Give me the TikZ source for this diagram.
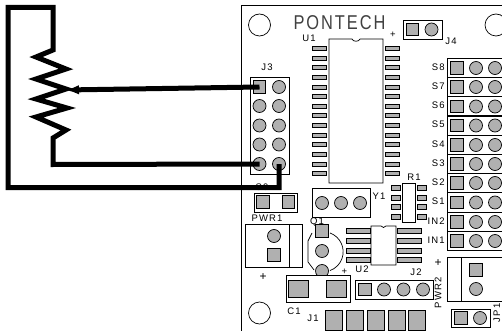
\documentclass[tikz,border=0pt]{standalone}
\usepackage{fontspec}
\setmainfont[LetterSpace=12]{Liberation Sans}
\usetikzlibrary{arrows.meta}
\definecolor{padgray}{RGB}{176,176,176}
\tikzset{
	sqpad/.style={draw, fill=padgray, minimum size=#1, inner sep=0pt},
	sqpad/.default=12.5pt,
	rdpad/.style={draw, fill=padgray, circle, minimum size=13pt, inner sep=0pt},
	smt/.style={draw, fill=padgray, minimum width=#1, minimum height=4pt, inner sep=0pt},
	lbl/.style={inner sep=0pt, font=\fontsize{9.5}{9.5}\selectfont},
	wire/.style={line width=5pt, line join=miter}
}

\begin{document}
\begin{tikzpicture}[x=1pt,y=-1pt,line width=0.7pt]
	\useasboundingbox (0,0) rectangle (502,331);
	
	% board edge and holes
	\draw (502,5) -- (241,5) -- (241,331);
	\foreach \x/\y/\hname in {259.5/25/holea,496/25/holeb,259.5/313/holec}
	\node[draw, circle, minimum size=22pt, inner sep=0pt] (\hname) at (\x,\y) {};
	\node[inner sep=0pt, xscale=0.82, text=black!75, font=\fontsize{20}{20}\selectfont] (pontech) at (339.5,22.5) {PONTECH};
	
	% U1
	\draw (329,183) -- (329,39) -- (352,39) .. controls (353,42) and (359,42) .. (360,39) -- (383,39) -- (383,183) -- cycle;
	\foreach \r in {0,...,13}{
		\node[smt=14pt] (ula\r) at (319,48.3+9.65*\r) {};
		\node[smt=14pt] (ulb\r) at (392,48.3+9.65*\r) {};
	}
	\node[lbl] (ulabel) at (309,38) {U1};
	\node[lbl] (uplus) at (393,35) {+};
	
	% J4
	\draw (403,20) rectangle (442,39);
	\node[sqpad] (jfa) at (412.5,29.5) {};
	\node[rdpad] (jfb) at (431.5,29.5) {};
	\node[lbl] (jflabel) at (451,41) {J4};
	
	% J3
	\draw[fill=white] (250,77) rectangle (289,174);
	\node[sqpad] (jta) at (259.5,87) {};
	\node[rdpad] (jtb) at (279,87) {};
	\foreach \y/\a/\b in {106/jtc/jtd,125.5/jte/jtf,144.5/jtg/jth,164/jti/jtj}{
		\node[rdpad] (\a) at (259.5,\y) {};
		\node[rdpad] (\b) at (279,\y) {};
	}
	\node[lbl] (jtlabel) at (267,67) {J3};
	
	% servo rows
	\foreach \y/\slabel in {68/S8,87/S7,106.5/S6,125.5/S5,145/S4,164/S3,183/S2,202.5/S1,222/IN2,241/IN1}{
		\draw (502,\y-9.7) -- (447,\y-9.7) -- (447,\y+9.7) -- (502,\y+9.7);
		\node[sqpad] (sa\slabel) at (457,\y) {};
		\node[rdpad] (sb\slabel) at (476,\y) {};
		\node[rdpad] (sc\slabel) at (495,\y) {};
		\node[lbl, anchor=east] (sl\slabel) at (445,\y-1) {\slabel};
	}
	
	% S9 header
	\draw (254,193) rectangle (297,212);
	\node[sqpad] (sna) at (263,202) {};
	\node[sqpad] (snb) at (288.5,202) {};
	\node[lbl] (snlabel) at (262,187.5) {S9};
	
	% PWR1
	\draw (245,224) rectangle (302.5,267);
	\draw (289,224) -- (289,267);
	\node[rdpad] (pwa) at (274,236) {};
	\node[sqpad] (pwb) at (274,255) {};
	\node[lbl] (pwlabel) at (267,218) {PWR1};
	\node[lbl, font=\fontsize{12}{12}\selectfont] (pwplus) at (263,277) {+};
	
	% Y1
	\draw (312,188) rectangle (370,217);
	\foreach \x/\yname in {322/ya,341/yb,360/yc}
	\node[rdpad] (\yname) at (\x,203) {};
	\node[lbl] (ylabel) at (379,196) {Y1};
	
	% Q1
	\draw (312,233) -- (308,241) -- (308,262) -- (314,270);
	\draw (330,233) arc (-70:70:20);
	\node[lbl] (qlabel) at (317,222.5) {Q1};
	\node[sqpad] (qa) at (322,231) {};
	\node[rdpad] (qb) at (322,251) {};
	\node[rdpad] (qc) at (322,271) {};
	
	% U2
	\draw (396,226) -- (386,226) .. controls (385,228) and (382,228) .. (381,226) -- (371,226) -- (371,265) -- (396,265) -- cycle;
	\foreach \y/\n in {231/a,241/b,250.7/c,260/d}{
		\node[smt=24pt, minimum height=5pt] (uta\n) at (358,\y) {};
		\node[smt=24pt, minimum height=5pt] (utb\n) at (409.5,\y) {};
	}
	\node[lbl] (utlabel) at (362,269) {U2};
	
	% R1
	\draw (402,183) rectangle (415,222);
	\foreach \y/\n in {188/a,198/b,207/c,217/d}{
		\node[smt=9pt, minimum height=5pt] (ra\n) at (395.5,\y) {};
		\node[smt=9pt, minimum height=5pt] (rb\n) at (421.5,\y) {};
	}
	\node[lbl] (rlabel) at (414,177) {R1};
	
	% C1
	\draw[fill=white] (286,275) rectangle (350,302);
	\node[sqpad, minimum width=20pt, minimum height=17pt] (ca) at (298.5,289) {};
	\node[sqpad, minimum width=20pt, minimum height=17pt] (cb) at (336,289) {};
	\node[lbl] (clabel) at (294,311) {C1};
	\node[lbl] (cplus) at (344.5,272) {+};
	
	% J2
	\draw (355,280) rectangle (433,299);
	\node[sqpad] (jsa) at (365,289.5) {};
	\foreach \x/\jname in {384/jsb,403.5/jsc,423/jsd}
	\node[rdpad] (\jname) at (\x,289.5) {};
	\node[lbl] (jslabel) at (416,272) {J2};
	
	% PWR2
	\draw (502,257) -- (447,257) -- (447,301) -- (502,301);
	\draw (461,257) -- (461,301);
	\node[sqpad] (pxa) at (476,270) {};
	\node[rdpad] (pxb) at (476,289) {};
	\node[lbl, rotate=90] (pxlabel) at (438,293) {PWR2};
	\node[lbl, font=\fontsize{12}{12}\selectfont] (pxplus) at (438,263) {+};
	
	% JP1
	\draw (451,309) rectangle (490,327);
	\node[sqpad] (jpa) at (461,318) {};
	\node[rdpad] (jpb) at (480,318) {};
	\node[lbl, rotate=90] (jplabel) at (497,313) {JP1};
	
	% J1
	\foreach \x/\jname in {333.5/joa,354.5/job,375.5/joc,396.5/jod,416.5/joe}
	\node[sqpad, minimum width=17pt, minimum height=20pt] (\jname) at (\x,320) {};
	\node[lbl] (jolabel) at (313,318) {J1};
	
	% wires
	\coordinate (wiper) at (65,90);
	\draw[wire] (jtj.center) -- (279,187.5) -- (8,187.5) -- (8,7.5) -- (53,7.5) -- (53,50) -- (36,57) -- (66,69) -- (36,79) -- (66,89) -- (36,99) -- (67,108) -- (36,117) -- (66,130) -- (53,138) -- (53,164.5) -- (jti.center);
	\draw[wire, -{Latex[length=14pt,width=9.5pt]}] (jta.center) -- (wiper);
\end{tikzpicture}
\end{document}
